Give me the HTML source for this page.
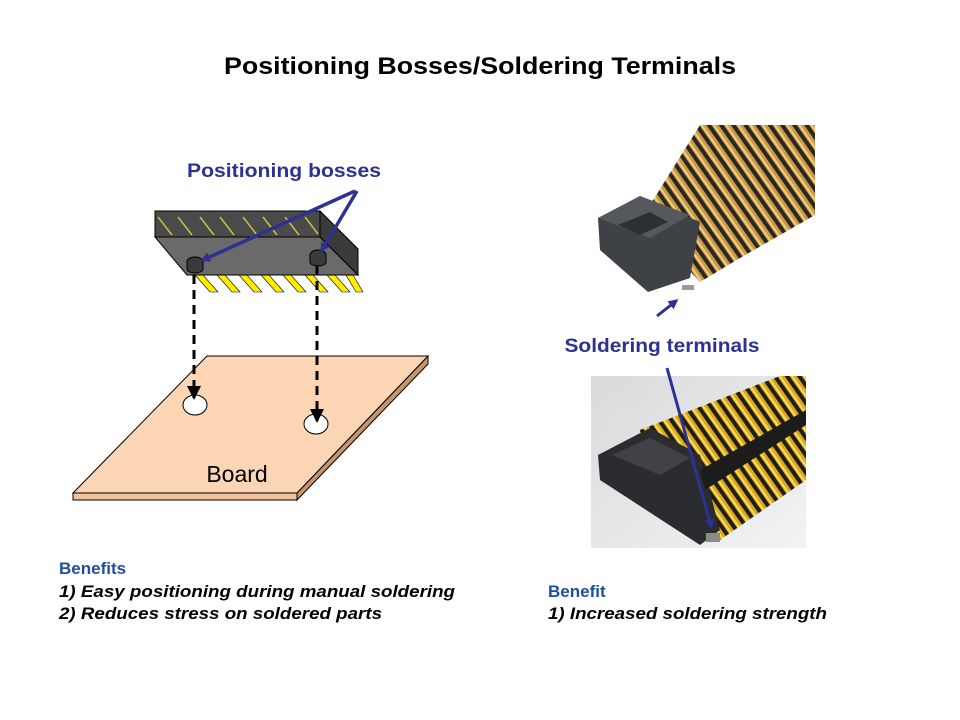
<!DOCTYPE html>
<html><head><meta charset="utf-8"><style>
body{margin:0;background:#fff;}
svg{display:block;font-family:"Liberation Sans",Arial,sans-serif;}
</style></head><body>
<svg width="960" height="720" viewBox="0 0 960 720" xmlns="http://www.w3.org/2000/svg">
<defs>
<linearGradient id="bg2" x1="0" y1="0" x2="1" y2="1"><stop offset="0" stop-color="#d8dadc"/><stop offset="1" stop-color="#f2f3f4"/></linearGradient>
<pattern id="gold" width="10" height="10" patternUnits="userSpaceOnUse" patternTransform="rotate(-35)">
<rect width="10" height="10" fill="#2a2622"/><rect x="1" width="6" height="10" fill="#c99a45"/><rect x="2" width="2" height="10" fill="#f0cc80"/></pattern>
<pattern id="gold2" width="10" height="10" patternUnits="userSpaceOnUse" patternTransform="rotate(-35)">
<rect width="10" height="10" fill="#221d14"/><rect x="1" width="6" height="10" fill="#d8a820"/><rect x="2" width="2" height="10" fill="#f8dc60"/></pattern>
<marker id="ah" markerWidth="10" markerHeight="10" refX="7" refY="5" orient="auto" markerUnits="userSpaceOnUse"><path d="M0,0 L10,5 L0,10 z" fill="#2e3192"/></marker>
<marker id="ahb" markerWidth="14" markerHeight="14" refX="12" refY="7" orient="auto" markerUnits="userSpaceOnUse"><path d="M0,0 L14,7 L0,14 z" fill="#000"/></marker>
</defs>

<text x="480" y="74" text-anchor="middle" font-size="24" font-weight="bold" fill="#000" textLength="512" lengthAdjust="spacingAndGlyphs">Positioning Bosses/Soldering Terminals</text>

<!-- board -->
<polygon points="73,493 297,493 297,500 73,500" fill="#f2c49a" stroke="#000" stroke-width="1"/>
<polygon points="297,493 428,356 428,364 297,500" fill="#c8946a" stroke="#000" stroke-width="1"/>
<polygon points="207,356 428,356 297,493 73,493" fill="#fcd5b4" stroke="#000" stroke-width="1"/>
<ellipse cx="195" cy="405" rx="12" ry="10" fill="#fff" stroke="#000"/>
<ellipse cx="316" cy="424" rx="12" ry="10" fill="#fff" stroke="#000"/>
<text x="237" y="482" text-anchor="middle" font-size="23" fill="#000">Board</text>

<!-- leads -->
<g stroke="#000" stroke-width="0.6" fill="#ffee00">
<polygon points="195,275 203,275 218,292 210,292"/>
<polygon points="217,275 225,275 240,292 232,292"/>
<polygon points="239,275 247,275 262,292 254,292"/>
<polygon points="261,275 269,275 284,292 276,292"/>
<polygon points="283,275 291,275 306,292 298,292"/>
<polygon points="305,275 313,275 328,292 320,292"/>
<polygon points="327,275 335,275 350,292 342,292"/>
<polygon points="346,275 353,275 363,292 356,292"/>
</g>
<!-- connector -->
<polygon points="155,237 320,237 358,275 187,275" fill="#6a6a6a" stroke="#000"/>
<polygon points="320,211 358,249 358,275 320,237" fill="#3a3a3a" stroke="#000"/>
<rect x="155" y="211" width="165" height="26" fill="#4a4a4a" stroke="#000"/>
<g stroke="#c8c040" stroke-width="1.5">
<line x1="158" y1="217" x2="172" y2="235"/><line x1="178" y1="217" x2="192" y2="235"/><line x1="200" y1="217" x2="214" y2="235"/><line x1="220" y1="217" x2="234" y2="235"/><line x1="243" y1="217" x2="257" y2="235"/><line x1="263" y1="217" x2="277" y2="235"/><line x1="285" y1="217" x2="299" y2="235"/><line x1="305" y1="217" x2="318" y2="234"/>
</g>
<path d="M187,262 a8,5 0 0 1 16,0 v7 a8,4 0 0 1 -16,0z" fill="#3a3a3a" stroke="#000"/>
<path d="M310,255 a8,5 0 0 1 16,0 v7 a8,4 0 0 1 -16,0z" fill="#3a3a3a" stroke="#000"/>

<!-- dashed -->
<line x1="194" y1="275" x2="194" y2="398" stroke="#000" stroke-width="3" stroke-dasharray="9,6" marker-end="url(#ahb)"/>
<line x1="317" y1="266" x2="317" y2="421" stroke="#000" stroke-width="3" stroke-dasharray="9,6" marker-end="url(#ahb)"/>

<!-- blue arrows -->
<line x1="355" y1="191" x2="203" y2="260" stroke="#2e3192" stroke-width="3.5" marker-end="url(#ah)"/>
<line x1="357" y1="191" x2="322" y2="250" stroke="#2e3192" stroke-width="3.5" marker-end="url(#ah)"/>
<text x="284" y="177" text-anchor="middle" font-size="19" font-weight="bold" fill="#2e3192" textLength="194" lengthAdjust="spacingAndGlyphs">Positioning bosses</text>

<!-- top photo -->
<polygon points="700,125 815,125 815,215 740,258 700,282 680,260 650,205" fill="url(#gold)"/>
<polygon points="598,218 640,196 700,222 690,278 648,292 600,250" fill="#3e4247"/>
<polygon points="598,218 640,196 690,215 650,238" fill="#55595e"/>
<polygon points="618,225 650,212 668,222 640,235" fill="#2c2f33"/>
<rect x="682" y="285" width="12" height="5" fill="#9a9a9a"/>

<line x1="657" y1="316" x2="676" y2="301" stroke="#2e3192" stroke-width="3" marker-end="url(#ah)"/>
<text x="662" y="352" text-anchor="middle" font-size="19" font-weight="bold" fill="#2e3192" textLength="195" lengthAdjust="spacingAndGlyphs">Soldering terminals</text>

<!-- bottom photo -->
<rect x="591" y="376" width="215" height="172" fill="url(#bg2)"/>
<polygon points="640,430 780,376 806,376 806,480 720,540 640,470" fill="url(#gold2)"/>
<polygon points="598,455 650,428 700,455 720,530 700,545 600,480" fill="#2b2c2f"/>
<polygon points="612,455 650,438 690,458 660,475" fill="#404246"/>
<polygon points="700,470 806,410 806,425 705,490" fill="#1c1c1c"/>
<rect x="706" y="533" width="14" height="9" fill="#8a8a8a"/>
<line x1="667" y1="368" x2="711" y2="526" stroke="#2e3192" stroke-width="3" marker-end="url(#ah)"/>

<!-- benefits -->
<text x="59" y="574" font-size="17" font-weight="bold" fill="#1f4e9c">Benefits</text>
<text x="59" y="597" font-size="17" font-weight="bold" font-style="italic" fill="#000" textLength="396" lengthAdjust="spacingAndGlyphs">1) Easy positioning during manual soldering</text>
<text x="59" y="619" font-size="17" font-weight="bold" font-style="italic" fill="#000" textLength="323" lengthAdjust="spacingAndGlyphs">2) Reduces stress on soldered parts</text>
<text x="548" y="597" font-size="17" font-weight="bold" fill="#1f4e9c">Benefit</text>
<text x="548" y="619" font-size="17" font-weight="bold" font-style="italic" fill="#000" textLength="279" lengthAdjust="spacingAndGlyphs">1) Increased soldering strength</text>
</svg>
</body></html>
